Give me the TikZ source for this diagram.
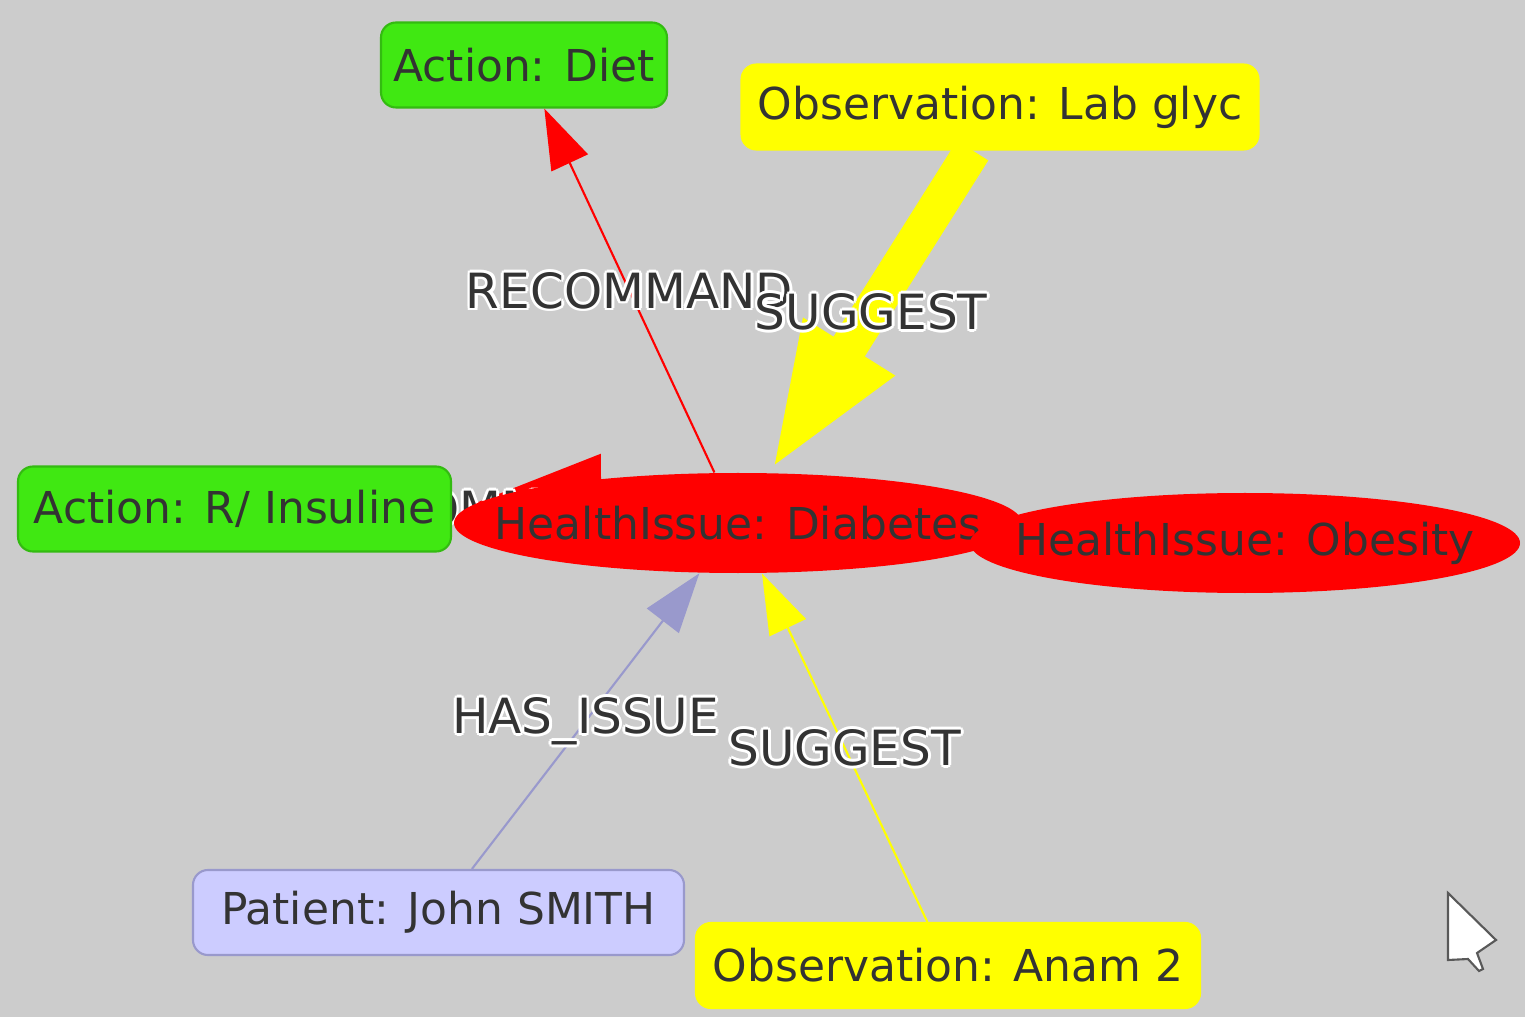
\documentclass[tikz,border=0pt]{standalone}
\usepackage{fontspec}
\setmainfont{DejaVu Sans}
\usetikzlibrary{shapes.geometric,arrows.meta,positioning}
\definecolor{canvas}{HTML}{CCCCCC}
\definecolor{actgreen}{HTML}{40E812}
\definecolor{actborder}{HTML}{33BB11}
\definecolor{obsyellow}{HTML}{FFFF00}
\definecolor{patfill}{HTML}{CCCCFF}
\definecolor{patborder}{HTML}{9999CC}
\definecolor{issuered}{HTML}{FF0000}
\definecolor{txt}{HTML}{333333}
\pgfdeclarelayer{bg}
\pgfdeclarelayer{edges}
\pgfsetlayers{bg,edges,main}
% white outline round edge labels
\newcommand\halo[1]{\setbox0=\hbox{#1}%
  \rlap{\color{white}%
    \rlap{\kern.8pt\copy0}\rlap{\kern-.8pt\copy0}%
    \rlap{\raise.8pt\copy0}\rlap{\lower.8pt\copy0}%
    \rlap{\kern.6pt\raise.6pt\copy0}\rlap{\kern-.6pt\raise.6pt\copy0}%
    \rlap{\kern.6pt\lower.6pt\copy0}\rlap{\kern-.6pt\lower.6pt\copy0}}%
  \copy0}
\tikzset{
      box/.style = {rounded corners=0.15cm, minimum height=0.85cm, inner xsep=0.1cm,
                    minimum width=#1, text=txt, font=\fontsize{12.5}{15}\selectfont,
                    line width=0.6pt},
      action/.style = {box=#1, fill=actgreen, draw=actborder},
      observation/.style = {box=#1, fill=obsyellow, draw=obsyellow},
      patient/.style = {box=#1, fill=patfill, draw=patborder},
      issue/.style = {ellipse, fill=issuered, inner sep=0pt, minimum width=#1,
                      minimum height=1cm, text=txt, font=\fontsize{12.5}{15}\selectfont},
      rel/.style = {line width=0.6pt, -{Triangle[length=6mm 0,width=4mm 0]}},
      heavy/.style = {line width=0.37cm, -{Triangle[length=14.9mm 0,width=9.6mm 0]}},
      lbl/.style = {text=txt, font=\fontsize{13.8}{16}\selectfont, inner sep=0pt},
    }
\begin{document}
\begin{tikzpicture}
          \begin{pgfonlayer}{bg}
            \fill[canvas] (0,0) rectangle (15.25,-10.17);
          \end{pgfonlayer}
          \useasboundingbox (0,0) rectangle (15.25,-10.17);

          \node[action=2.86cm] (diet) at (5.24,-0.65) {Action: Diet};
          \node[observation=5.17cm] (lab) at (10.00,-1.07) {Observation: Lab glyc};
          \node[action=4.33cm] (ins) at (2.345,-5.09) {Action: R/ Insuline};
          \node[issue=5.68cm] (dia) at (7.38,-5.23) {\makebox[0pt]{HealthIssue: Diabetes}};
          \node[issue=5.5cm] (obe) at (12.45,-5.43) {\makebox[0pt]{HealthIssue: Obesity}};
          \node[patient=4.91cm] (pat) at (4.385,-9.125) {Patient: John SMITH};
          \node[observation=5.04cm] (anam) at (9.48,-9.655) {Observation: Anam 2};

          \begin{pgfonlayer}{edges}
            \draw[heavy, issuered] ([yshift=1.5mm]dia.center) -- (ins)
              node[lbl, pos=.88] {\halo{RECOMMAND}};
            \draw[rel, issuered] (dia) -- (diet) node[lbl, midway] {\halo{RECOMMAND}};
            \draw[heavy, obsyellow] (lab) -- (dia) node[lbl, midway] {\halo{SUGGEST}};
            \draw[rel, patborder] (pat) -- (dia) node[lbl, midway] {\halo{HAS\_ISSUE}};
            \draw[rel, obsyellow] (anam) -- (dia) node[lbl, midway] {\halo{SUGGEST}};
          \end{pgfonlayer}

          % mouse pointer
          \filldraw[fill=white, draw=black!65, line width=0.6pt]
            (14.48,-8.93) -- (14.48,-9.60) -- (14.68,-9.59) -- (14.79,-9.71)
            -- (14.83,-9.69) -- (14.77,-9.53) -- (14.96,-9.40) -- cycle;
\end{tikzpicture}
\end{document}
